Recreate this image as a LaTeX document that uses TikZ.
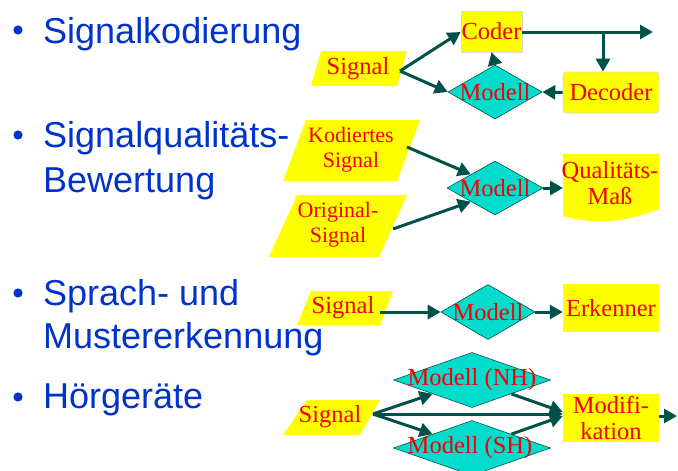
\documentclass[tikz,border=0pt]{standalone}
\usepackage{fontspec}
\setmainfont{Liberation Serif}
\newfontfamily\bulletfont{Liberation Sans}
\usetikzlibrary{shapes.geometric,arrows.meta}
\definecolor{bulletblue}{RGB}{0,51,204}
\definecolor{flowgreen}{RGB}{0,82,72}
\definecolor{modelcyan}{RGB}{0,221,204}
\definecolor{boxyellow}{RGB}{255,255,0}
\definecolor{labelred}{RGB}{245,0,0}
\tikzset{
  bullettext/.style={anchor=base west, inner sep=0, text=bulletblue,
    font=\bulletfont\fontsize{36}{45}\selectfont},
  lab/.style={text=labelred, inner sep=0, align=center,
    font=\fontsize{24.5}{26}\selectfont},
  smalllab/.style={lab, font=\fontsize{22}{25}\selectfont},
  slanted/.style={fill=boxyellow},
  box/.style={fill=boxyellow, draw=black!15, line width=0.6pt, inner sep=0},
  plainbox/.style={fill=boxyellow, inner sep=0},
  model/.style={diamond, fill=modelcyan, draw=flowgreen, line width=0.6pt,
    inner sep=0},
  flow/.style={draw=flowgreen, line width=3pt,
    -{Triangle[length=13pt,width=14pt]}},
}
\begin{document}
\begin{tikzpicture}[x=1pt,y=-1pt]
\useasboundingbox (0,0) rectangle (678,471);

% bullet list
\foreach \yy in {30,135,293,397} \fill[bulletblue] (18,\yy) circle (4.6);
\node[bullettext] (t1) at (43,43) {Signalkodierung};
\node[bullettext] (t2a) at (43,147) {Signalqualitäts-};
\node[bullettext] (t2b) at (43,192) {Bewertung};
\node[bullettext] (t3a) at (43,305) {Sprach- und};
\node[bullettext] (t3b) at (43,348) {Mustererkennung};
\node[bullettext] (t4) at (43,408) {Hörgeräte};

% --- Signalkodierung ---
\fill[slanted] (321,51) -- (407,51) -- (397,86) -- (311,86) -- cycle;
\node[lab] (sig1) at (358,69) {Signal};
\coordinate (sig1out) at (400,71);
\node[box, minimum width=61, minimum height=41] (coder) at (491.5,31.5) {};
\node[lab] at (coder) {Coder};
\node[model, minimum width=94, minimum height=54] (m1) at (495,92) {};
\node[lab] at (m1) {Modell};
\node[box, rounded corners=3pt, minimum width=96, minimum height=41] (dec) at (611,92.5) {};
\node[lab] at (dec) {Decoder};
\coordinate (out1) at (653,32);
\coordinate (split1) at (603,32);
\draw[flow] (sig1out) -- (coder.west |- 0,32);
\draw[flow] (sig1out) -- (m1.west);
\draw[flow] (m1.north) -- (coder.south);
\draw[flow] (coder.east |- 0,32) -- (out1);
\draw[flow] (split1) -- (split1 |- dec.north);
\draw[flow] (dec.west) -- (m1.east);

% --- Signalqualitaets-Bewertung ---
\fill[slanted] (306,120) -- (420,120) -- (397,181) -- (283,181) -- cycle;
\node[smalllab] (kod) at (351,150) {Kodiertes\\Signal};
\coordinate (kodout) at (407,147);
\fill[slanted] (297,195) -- (407,195) -- (379,257) -- (269,257) -- cycle;
\node[smalllab] (orig) at (338,225) {Original-\\Signal};
\coordinate (origout) at (393,229);
\node[model, minimum width=96, minimum height=54] (m2) at (495,188) {};
\node[lab] at (m2) {Modell};
\fill[boxyellow] (563,154) -- (659,154) -- (659,209)
  .. controls (628,221) and (598,226) .. (563,216) -- cycle;
\node[lab] (qual) at (610,183) {Qualitäts-\\Maß};
\coordinate (qualin) at (563,188);
\draw[flow] (kodout) -- (m2.north west);
\draw[flow] (origout) -- (m2.south west);
\draw[flow] (m2.east) -- (qualin);

% --- Sprach- und Mustererkennung ---
\fill[slanted] (311,291) -- (393,291) -- (380,325) -- (297,325) -- cycle;
\node[lab] (sig3) at (343,308) {Signal};
\coordinate (sig3out) at (380,312);
\node[model, minimum width=94, minimum height=55] (m3) at (488,312) {};
\node[lab] at (m3) {Modell};
\node[plainbox, minimum width=96, minimum height=48] (erk) at (611,308) {};
\node[lab] at (erk) {Erkenner};
\draw[flow] (sig3out) -- (m3.west);
\draw[flow] (m3.east) -- (m3.east -| erk.west);

% --- Hoergeraete ---
\fill[slanted] (307,400) -- (380,400) -- (360,435) -- (283,435) -- cycle;
\node[lab] (sig4) at (330,417) {Signal};
\coordinate (sig4out) at (373,414);
\node[model, minimum width=157, minimum height=55] (nh) at (472,380) {};
\node[lab] at (nh) {Modell (NH)};
\node[model, minimum width=157, minimum height=55] (sh) at (472,448) {};
\node[lab] at (470,448) {Modell (SH)};
\node[plainbox, minimum width=96, minimum height=48] (mod) at (611,418) {};
\node[lab] at (611,418) {Modifi-\\kation};
\coordinate (out4) at (677,416);
\draw[flow] (sig4out) -- (nh.south west);
\draw[flow] (sig4out) -- (sh.north west);
\draw[flow] (sig4out) -- (mod.west |- 0,414);
\draw[flow] (nh.south east) -- (mod.west |- 0,412);
\draw[flow] (sh.north east) -- (mod.west |- 0,416);
\draw[flow] (mod.east |- 0,416) -- (out4);
\end{tikzpicture}
\end{document}
